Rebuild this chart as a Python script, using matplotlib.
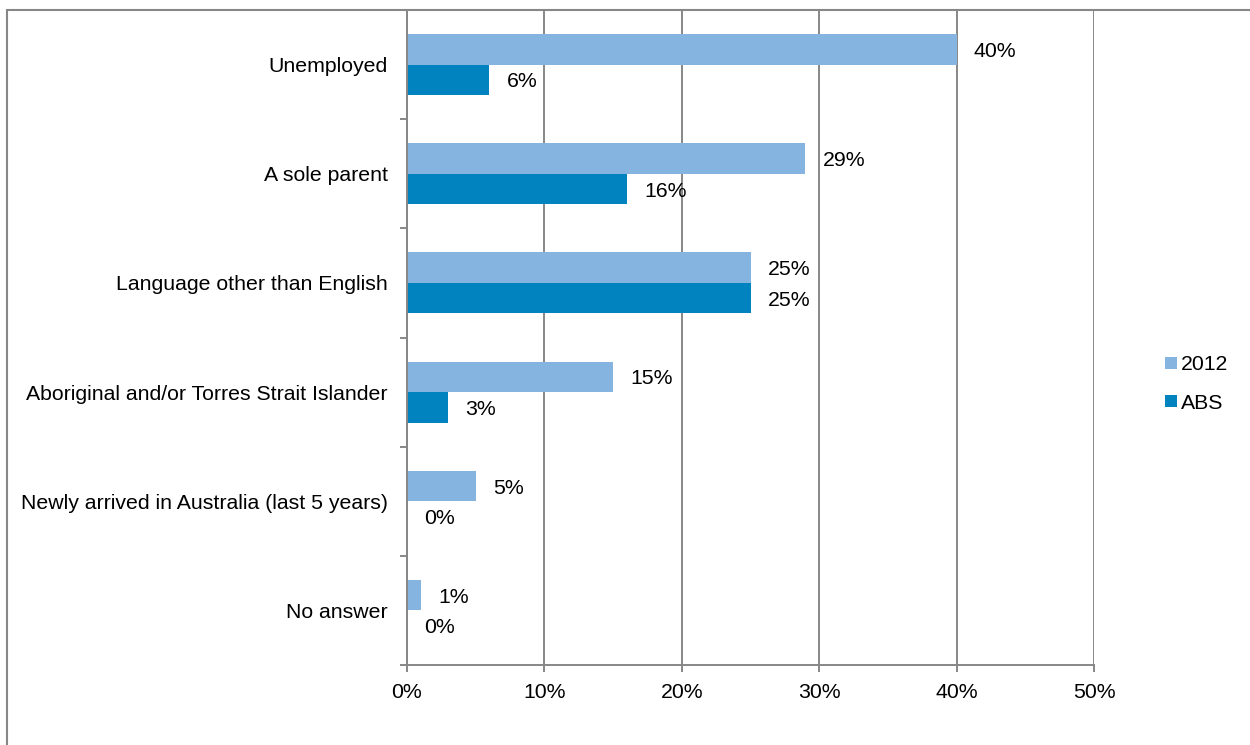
import matplotlib.pyplot as plt
import numpy as np
from matplotlib.patches import Rectangle

plt.rcParams['font.family'] = ['Liberation Sans', 'DejaVu Sans']

# Share of respondents in each group, 2012 survey vs ABS figures
categories = [
    "Unemployed", "A sole parent", "Language other than English",
    "Aboriginal and/or Torres Strait Islander",
    "Newly arrived in Australia (last 5 years)", "No answer"
]
survey_2012 = [40, 29, 25, 15, 5, 1]
abs_values = [6, 16, 25, 3, 0, 0]
x_ticks = [0, 10, 20, 30, 40, 50]

light_blue = "#84b4df"
dark_blue = "#0083be"
grid_gray = "#878787"
fs = 15.3

fig = plt.figure(figsize=(12.5, 7.45), dpi=100)
W, H = 1250, 745

# chart border (only top/left edges fall inside the image)
fig.patches.append(Rectangle((7 / W, -0.1), 1.2, 1 - 10 / H + 0.1,
                             transform=fig.transFigure, fill=False,
                             edgecolor=grid_gray, linewidth=1.5))

ax = fig.add_axes([407 / W, 80 / H, 687 / W, 655 / H])

y = np.arange(len(categories))
h = 0.28
b1 = ax.barh(y - h / 2, survey_2012, height=h, color=light_blue, label="2012")
b2 = ax.barh(y + h / 2, abs_values, height=h, color=dark_blue, label="ABS")

for bars, vals in ((b1, survey_2012), (b2, abs_values)):
    for bar, v in zip(bars, vals):
        ax.annotate(f"{v}%", (v, bar.get_y() + bar.get_height() / 2),
                    xytext=(12.5, -1.5), textcoords="offset points",
                    ha="left", va="center", fontsize=fs, color="black")

ax.set_xlim(0, 50)
ax.set_ylim(len(categories) - 0.5, -0.5)
ax.set_xticks(x_ticks)
ax.set_xticklabels([f"{t}%" for t in x_ticks], fontsize=fs)
ax.set_yticks(y)
ax.set_yticklabels(categories, fontsize=fs)
ax.set_yticks(np.arange(len(categories) + 1) - 0.5, minor=True)

ax.tick_params(axis="y", which="major", length=0, pad=14)
ax.tick_params(axis="y", which="minor", length=5, width=1.4, color=grid_gray)
ax.tick_params(axis="x", length=5, width=1.4, color=grid_gray, pad=8)

ax.xaxis.grid(True, color=grid_gray, linewidth=1.4)
ax.set_axisbelow(True)
for side in ("top", "right"):
    ax.spines[side].set_visible(False)
for side in ("left", "bottom"):
    ax.spines[side].set_color(grid_gray)
    ax.spines[side].set_linewidth(1.4)

leg = fig.legend(handles=[b1, b2], loc="center left",
                 bbox_to_anchor=(1146 / W, 1 - 384 / H), frameon=False,
                 fontsize=fs, handlelength=0.55, handleheight=0.55,
                 handletextpad=0.2, labelspacing=0.9)

fig.savefig("out.png", dpi=100)
